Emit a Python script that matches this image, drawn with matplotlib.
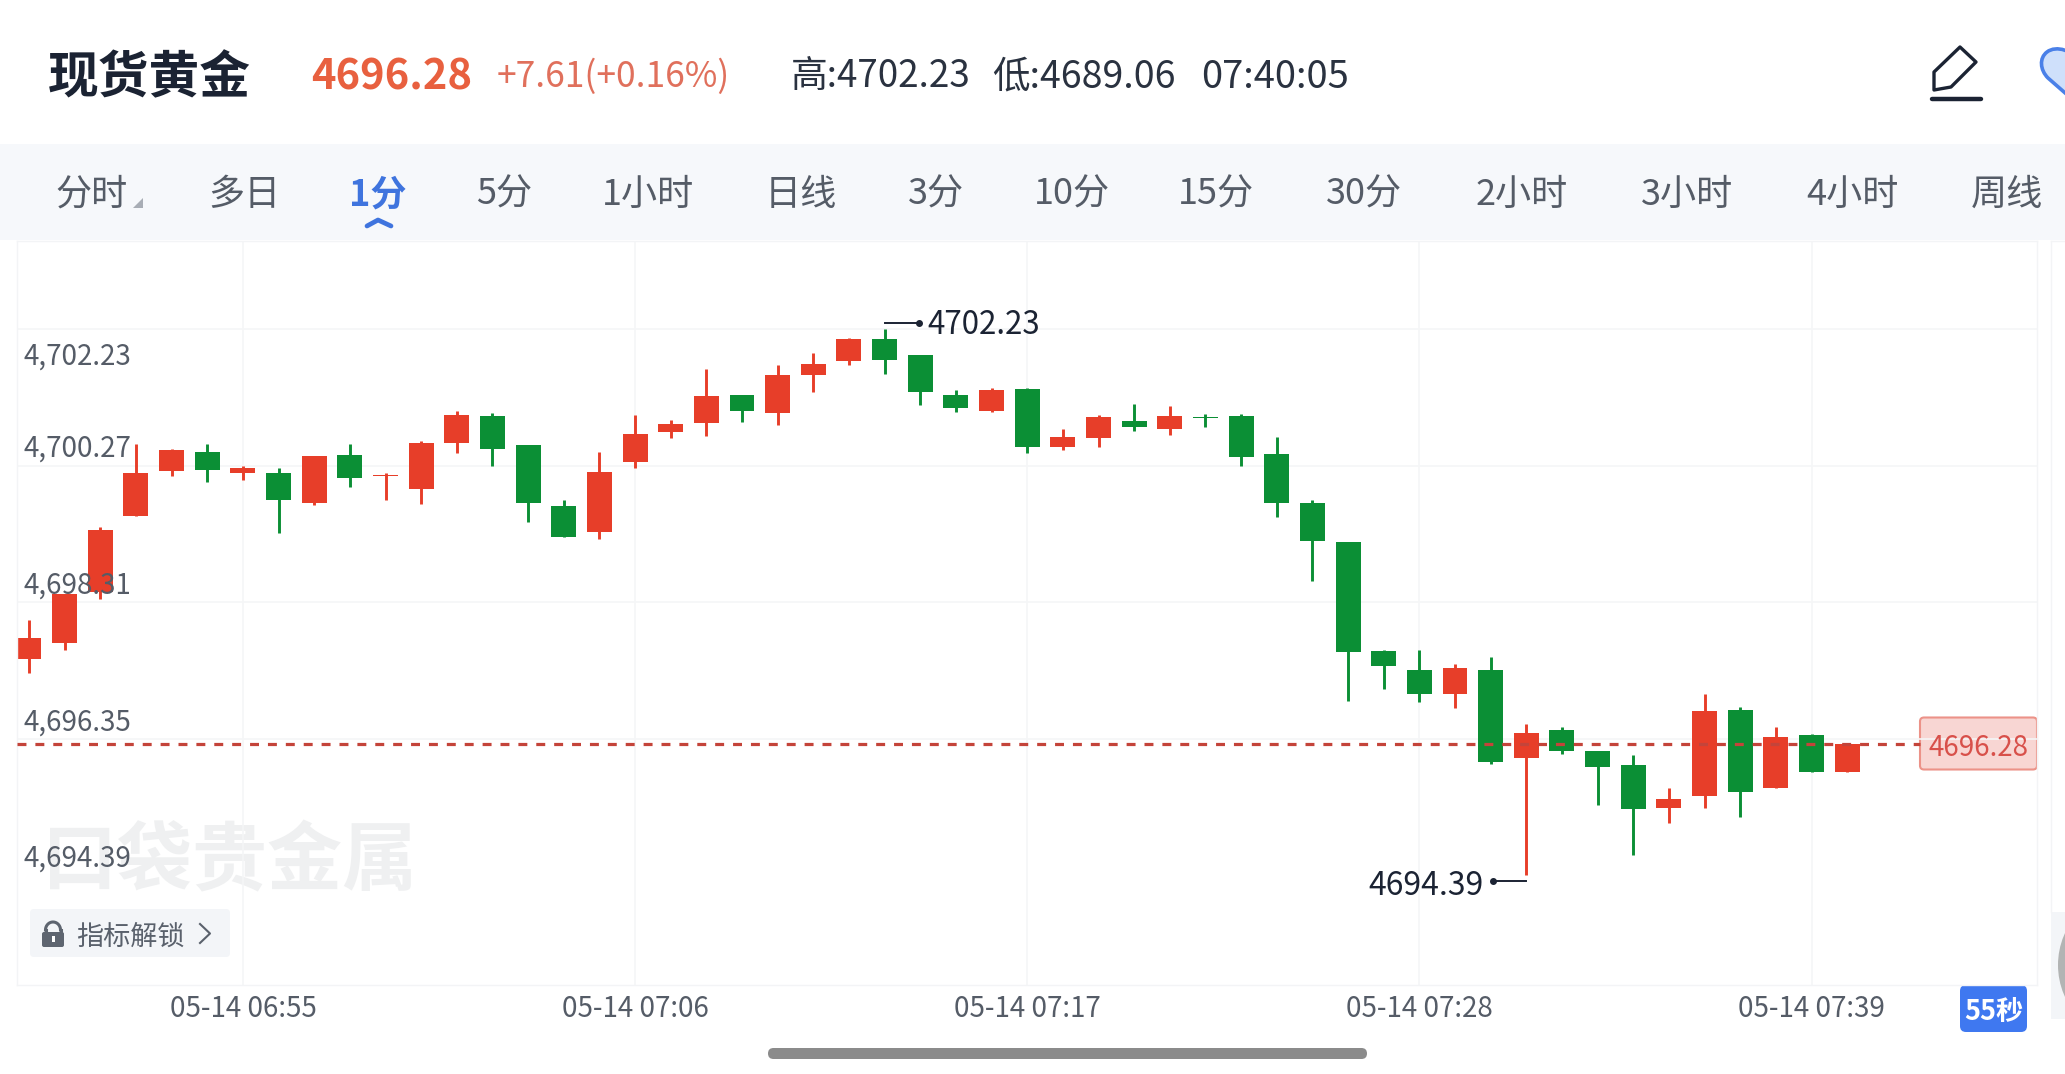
import matplotlib
matplotlib.use("Agg")
import numpy as np
import matplotlib.pyplot as plt
from matplotlib.patches import FancyBboxPatch, PathPatch, Polygon, Rectangle, Circle
from matplotlib.path import Path
from matplotlib.transforms import ScaledTranslation, offset_copy

plt.rcParams['font.family'] = ['Noto Sans CJK SC', 'DejaVu Sans']

# ---- data ----
opens = [4697.49, 4697.72, 4698.45, 4699.55, 4700.19, 4700.46, 4700.17, 4700.17, 4699.73, 4700.42,
         4700.12, 4699.93, 4700.59, 4700.98, 4700.57, 4699.69, 4699.32, 4700.32, 4700.75, 4700.88,
         4701.29, 4701.02, 4701.57, 4701.77, 4702.08, 4701.86, 4701.29, 4701.05, 4701.37, 4700.53,
         4700.66, 4700.91, 4700.80, 4700.97, 4700.98, 4700.43, 4699.73, 4699.17, 4697.61, 4697.34,
         4697.00, 4697.34, 4696.08, 4696.47, 4696.17, 4695.97, 4695.36, 4695.53, 4696.76, 4695.64,
         4696.41, 4695.87]
closes = [4697.80, 4698.43, 4699.34, 4700.16, 4700.50, 4700.20, 4700.23, 4699.77, 4700.41, 4700.09,
          4700.14, 4700.59, 4701.00, 4700.51, 4699.73, 4699.25, 4700.18, 4700.72, 4700.87, 4701.27,
          4701.06, 4701.57, 4701.73, 4702.09, 4701.78, 4701.32, 4701.09, 4701.36, 4700.54, 4700.68,
          4700.97, 4700.82, 4700.98, 4700.95, 4700.39, 4699.74, 4699.19, 4697.60, 4697.39, 4696.99,
          4697.36, 4696.02, 4696.43, 4696.18, 4695.95, 4695.34, 4695.49, 4696.75, 4695.59, 4696.38,
          4695.87, 4696.28]
highs = [4698.06, 4698.43, 4699.39, 4700.58, 4700.51, 4700.58, 4700.26, 4700.23, 4700.41, 4700.58,
         4700.17, 4700.63, 4701.05, 4701.02, 4700.57, 4699.77, 4700.47, 4700.99, 4700.93, 4701.66,
         4701.29, 4701.72, 4701.89, 4702.10, 4702.23, 4701.86, 4701.36, 4701.39, 4701.38, 4700.80,
         4701.00, 4701.15, 4701.12, 4701.01, 4701.01, 4700.68, 4699.77, 4699.17, 4697.63, 4697.63,
         4697.43, 4697.53, 4696.57, 4696.52, 4696.17, 4696.12, 4695.64, 4696.99, 4696.80, 4696.52,
         4696.42, 4696.29]
lows = [4697.30, 4697.62, 4698.36, 4699.55, 4700.12, 4700.03, 4700.07, 4699.30, 4699.71, 4699.97,
        4699.78, 4699.72, 4700.45, 4700.26, 4699.46, 4699.25, 4699.21, 4700.24, 4700.66, 4700.69,
        4700.89, 4700.85, 4701.33, 4701.72, 4701.59, 4701.14, 4701.04, 4701.04, 4700.45, 4700.50,
        4700.54, 4700.77, 4700.71, 4700.83, 4700.27, 4699.53, 4698.61, 4696.89, 4697.06, 4696.88,
        4696.79, 4695.99, 4694.39, 4696.13, 4695.40, 4694.69, 4695.14, 4695.36, 4695.23, 4695.64,
        4695.87, 4695.87]
price_ticks = [4702.23, 4700.27, 4698.31, 4696.35, 4694.39]
price_labels = ['4,702.23', '4,700.27', '4,698.31', '4,696.35', '4,694.39']
time_tick_idx = [6, 17, 28, 39, 50]
time_labels = ['05-14 06:55', '05-14 07:06', '05-14 07:17', '05-14 07:28', '05-14 07:39']
last_price = 4696.28
high_price, high_idx = 4702.23, 24
low_price, low_idx = 4694.39, 42
tabs = ['分时', '多日', '1分', '5分', '1小时', '日线', '3分', '10分', '15分', '30分', '2小时', '3小时', '4小时', '周线']

# ---- layout (pixels) ----
W, H = 2065, 1074
fig = plt.figure(figsize=(W / 100, H / 100), dpi=100, facecolor='white')
RED, GREEN = '#E73E29', '#0B8F35'
GREY = '#555C67'
DARK = '#1B2333'
GRID = '#F5F6F7'

ui = fig.add_axes([0, 0, 1, 1], zorder=0)
ui.set_xlim(0, W); ui.set_ylim(H, 0); ui.axis('off')

L, R, T, B = 17, 2037, 241, 985
ax = fig.add_axes([L / W, 1 - B / H, (R - L) / W, (B - T) / H], zorder=1)
ax.patch.set_alpha(0)
step, x0 = 35.65, 29
ppu = 69.7
y_anchor = 329
ax.set_xlim((L - x0) / step, (R - x0) / step)
ax.set_ylim(4702.23 - (B - y_anchor) / ppu, 4702.23 + (y_anchor - T) / ppu)
for s in ax.spines.values():
    s.set_color('#F3F4F6'); s.set_linewidth(1)

# grid under the candles; axis labels above them
ax.set_axisbelow(False)
ax.hlines(price_ticks[:4], *ax.get_xlim(), color=GRID, lw=1.2, zorder=0.5)
ax.vlines(time_tick_idx, *ax.get_ylim(), color=GRID, lw=1.2, zorder=0.5)

# candles
idx = np.arange(len(opens))
o, c, hi, lo = map(np.array, (opens, closes, highs, lows))
colors = [RED if cc >= oo else GREEN for oo, cc in zip(o, c)]
ax.vlines(idx, lo, hi, colors=colors, lw=2.1, zorder=2)
ax.bar(idx, np.abs(c - o), bottom=np.minimum(o, c), width=0.70, color=colors, zorder=2.1)

# last price line + tag
tag_left = 1920
ax.hlines(last_price, ax.get_xlim()[0], (tag_left - x0) / step, color='#C4443A',
          lw=2.3, linestyles=(0, (2.8, 2.8)), zorder=3)
ui.add_patch(FancyBboxPatch((tag_left, 717.5), 117, 52, boxstyle='round,pad=0,rounding_size=4',
                            fc='#F8D6D3', ec='#EC9288', lw=1.5))
ax.text((1978.5 - x0) / step, last_price, f'{last_price:.2f}', color='#D8504A', fontsize=20,
        ha='center', va='center_baseline', transform=offset_copy(ax.transData, fig=fig, x=0, y=-1, units='dots'),
        zorder=4)

# price labels (inside the axes) and time labels as real ticks
ax.set_yticks(price_ticks, price_labels)
ax.set_xticks(time_tick_idx, time_labels)
ax.tick_params(axis='y', length=0, pad=-5, labelsize=20, labelcolor=GREY)
ax.tick_params(axis='x', length=0, pad=6.5, labelsize=20, labelcolor=GREY)
y_off = [-24, 20.5, 20.5, 20, 20.5]
for lab, dy in zip(ax.get_yticklabels(), y_off):
    lab.set_ha('left'); lab.set_va('center_baseline')
    lab.set_transform(lab.get_transform() + ScaledTranslation(0, dy / 100, fig.dpi_scale_trans))

# high / low markers
def off(dx, dy):
    return offset_copy(ax.transData, fig=fig, x=dx, y=dy, units='dots')
ax.plot([high_idx, high_idx + 34 / step], [high_price] * 2, color=DARK, lw=1.4,
        transform=off(0, 6), zorder=4)
ax.plot([high_idx + 34 / step], [high_price], 'o', color=DARK, ms=4, transform=off(0, 6), zorder=4)
ax.text(high_idx, high_price, f'{high_price:.2f}', color=DARK, fontsize=22.5, ha='left',
        va='center_baseline', transform=off(927 - (x0 + high_idx * step), 7), zorder=4)
ax.plot([low_idx, low_idx - 33 / step], [low_price] * 2, color=DARK, lw=1.4,
        transform=off(0, -6), zorder=4)
ax.plot([low_idx - 33 / step], [low_price], 'o', color=DARK, ms=4, transform=off(0, -6), zorder=4)
ax.text(low_idx, low_price, f'{low_price:.2f}', color=DARK, fontsize=23, ha='right',
        va='center_baseline', transform=off(1484 - (x0 + low_idx * step), -7), zorder=4)

# ---- header ----
ui.text(48, 79, '现货黄金', fontsize=36.5, fontweight='bold', color=DARK, va='center')
ui.text(311, 77, '4696.28', fontsize=30, fontweight='bold', color='#E8603F', va='center')
ui.text(497, 77, '+7.61(+0.16%)', fontsize=25.5, color='#E0705C', va='center')
ui.text(791, 77, '高:4702.23', fontsize=26.5, color='#2A3240', va='center')
ui.text(992, 77, '低:4689.06', fontsize=27, color='#2A3240', va='center')
ui.text(1201, 77, '07:40:05', fontsize=27.5, color='#2A3240', va='center')

# pencil + heart icons
ui.add_patch(Polygon([(1960, 47), (1976, 62), (1951, 87), (1934, 90), (1934, 72)], closed=True,
                     fc='none', ec=DARK, lw=2.4, joinstyle='round'))
ui.plot([1932, 1981], [98.5, 98.5], color=DARK, lw=3.2, solid_capstyle='round')
heart = Path([(2080, 64), (2074, 50), (2056, 45), (2047, 52), (2039, 58), (2040, 70), (2048, 78),
              (2080, 106), (2080, 64)],
             [Path.MOVETO, Path.CURVE4, Path.CURVE4, Path.CURVE4, Path.CURVE4, Path.CURVE4, Path.CURVE4,
              Path.LINETO, Path.CLOSEPOLY])
ui.add_patch(PathPatch(heart, fc='#CFE0FB', ec='#4A80E8', lw=2.6))

# ---- tab bar ----
ui.add_patch(Rectangle((0, 144), W, 96, fc='#F6F8FB', ec='none'))
tab_x = [92, 244, 378, 504, 648, 801, 936, 1072, 1216, 1364, 1522, 1687, 1852, 2007]
for name, tx in zip(tabs, tab_x):
    active = name == '1分'
    ui.text(tx, 195, name, fontsize=26, ha='center', va='center',
            color='#3F74DE' if active else GREY, fontweight='bold' if active else 'normal')
ui.plot([367, 378, 391], [226, 220, 226], color='#3F74DE', lw=3.4, solid_capstyle='round',
        solid_joinstyle='round')
ui.add_patch(Polygon([(143, 198), (143, 208), (133, 208)], closed=True, fc='#A8ADB5', ec='none'))

# ---- watermark, indicator button ----
ui.text(229, 862, '口袋贵金属', fontsize=54, fontweight='bold', color='#EFF0F1', ha='center', va='center')
ui.add_patch(FancyBboxPatch((30, 909), 200, 48, boxstyle='round,pad=0,rounding_size=4',
                            fc='#F3F5F8', ec='none'))
ui.add_patch(FancyBboxPatch((42, 932), 22, 15, boxstyle='round,pad=0,rounding_size=2',
                            fc='#5E6570', ec='none'))
th = np.linspace(np.pi, 2 * np.pi, 30)
ui.plot(53 + 7.5 * np.cos(th), 930 + 8 * np.sin(th), color='#5E6570', lw=2.2)
ui.plot([45.5, 45.5], [930, 933], color='#5E6570', lw=2.2)
ui.plot([60.5, 60.5], [930, 933], color='#5E6570', lw=2.2)
ui.add_patch(Rectangle((52, 936), 2.5, 6, fc='white', ec='none'))
ui.text(76, 937, '指标解锁', fontsize=19.5, color='#5A616C', va='center')
ui.plot([200, 210, 200], [924, 933.5, 943], color='#5A616C', lw=1.5)

# ---- countdown badge, scrollbar, right edge ----
ui.add_patch(FancyBboxPatch((1960, 985), 67, 47, boxstyle='round,pad=0,rounding_size=6',
                            fc='#3F78F0', ec='none'))
ui.text(1993.5, 1012, '55秒', fontsize=19.5, fontweight='bold', color='white', ha='center', va='center')
ui.add_patch(FancyBboxPatch((768, 1048), 599, 11, boxstyle='round,pad=0,rounding_size=5.5',
                            fc='#8B8B8B', ec='none'))
ui.plot([2051, 2051], [241, 912], color='#F3F4F6', lw=1)
ui.plot([2051, W], [241, 241], color='#F3F4F6', lw=1)
ui.add_patch(Rectangle((2051, 912), 14, 107, fc='#F3F5F8', ec='none'))
ui.add_patch(Circle((2134.6, 965), 76.6, fc='#B2B4B4', ec='none'))

fig.savefig('out.png', dpi=100)
